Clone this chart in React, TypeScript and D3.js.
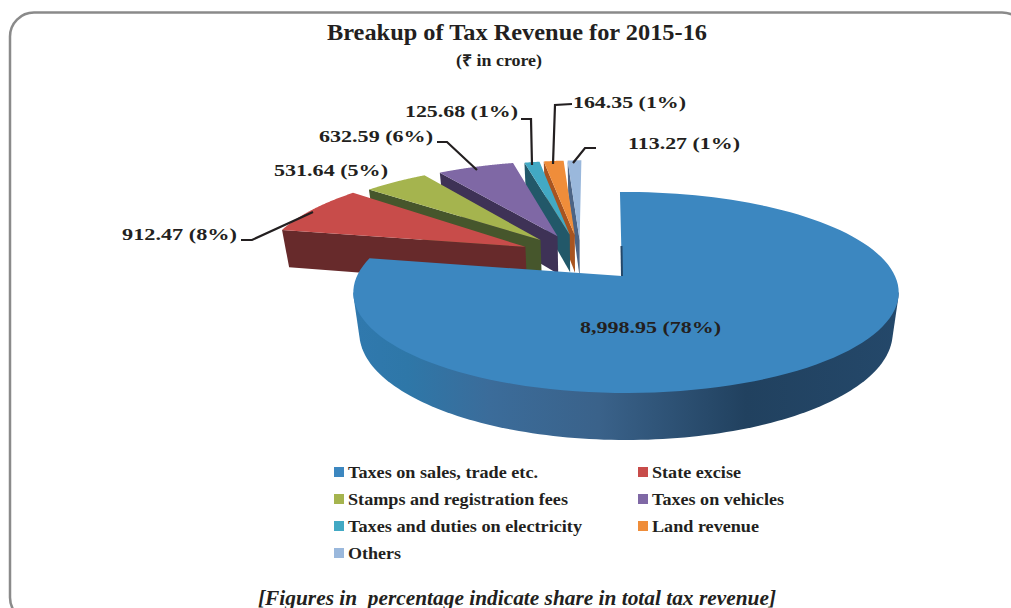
import React from "react";
import * as d3 from "d3";

const categories = [
  "Taxes on sales, trade etc.",
  "State excise",
  "Stamps and registration fees",
  "Taxes on vehicles",
  "Taxes and duties on electricity",
  "Land revenue",
  "Others",
];
const values = [8998.95, 912.47, 531.64, 632.59, 125.68, 164.35, 113.27];
const topColors = ["#3c87c0", "#c84c4a", "#a5b44e", "#7f68a5", "#42a9c4", "#ef8d3a", "#9ab8dc"];
const sideColors = ["#2f6b9a", "#672a2b", "#46562c", "#3e3256", "#225869", "#a85420", "#4c6485"];

// layout of each slice
const explodes = [0, 0.3, 0.3, 0.3, 0.3, 0.3, 0.3];
const shiftX = [23, 0, -4, -8, -10, -11, -12];
const shiftY = [16, -1, 3, 4, 5, 5, 5];
const apexShiftX = [-4, -6, -6, -6, -7, -7, -7];
const apexShiftY = [0, 0, -2, -2, -3, -2, 3];

// data label layout
const labelX = [580, 122, 274, 319, 405, 573, 628];
const labelY = [333, 240, 176, 142, 117, 108, 149];
const labelW = [141, 115, 114, 114, 113, 113, 112];

const leaders: [number, number][][] = [
  [],
  [[241, 240], [252, 240], [313, 212]],
  [],
  [[437, 142], [447, 142], [477, 170]],
  [[521, 119], [531, 119], [532, 165]],
  [[572, 104], [555, 105], [553, 164]],
  [[596, 148], [585, 148], [573, 163]],
];

// legend layout
const legendCol = [334, 638, 334, 638, 334, 638, 334];
const legendRow = [467, 467, 494, 494, 521, 521, 548];
const legendW = [190, 89, 220, 132, 234, 107, 53];

const W = 1011;
const H = 608;
const CX = 603, CY = 260;
const P = 0.164, A = 97.8, B = 269, D = 39.3, SHRINK = 0.022;

const pieGen = d3
  .pie<number>()
  .sort(null)
  .value((d) => d)
  .startAngle((-1.5 * Math.PI) / 180)
  .endAngle((358.5 * Math.PI) / 180);
const arcs = pieGen(values);
const total = d3.sum(values);
const fmt = d3.format(",.2f");
const labels = values.map((v, i) => `${fmt(v)} (${Math.round((v / total) * 100)}%)`);
const line = d3.line<[number, number]>();

function project(i: number, wx: number, wy: number, z: number): [number, number] {
  const s = 1 / (1 - P * wy);
  return [
    CX + shiftX[i] + B * wx * s * (1 - SHRINK * z),
    CY + shiftY[i] + (A * wy + D * z) * s,
  ];
}
function offset(i: number): [number, number] {
  const mid = (arcs[i].startAngle + arcs[i].endAngle) / 2;
  return [explodes[i] * Math.sin(mid), -explodes[i] * Math.cos(mid)];
}
function rim(i: number, angle: number, z: number): [number, number] {
  const [ex, ey] = offset(i);
  return project(i, ex + Math.sin(angle), ey - Math.cos(angle), z);
}
function apex(i: number, z: number): [number, number] {
  const [ex, ey] = offset(i);
  const p = project(i, ex, ey, z);
  return [p[0] + apexShiftX[i], p[1] + apexShiftY[i]];
}
function rimRange(i: number, a0: number, a1: number, z: number): [number, number][] {
  return d3.range(0, 121).map((k) => rim(i, a0 + ((a1 - a0) * k) / 120, z));
}

function Slice({ i }: { i: number }) {
  const { startAngle, endAngle } = arcs[i];
  const top = [apex(i, 0), ...rimRange(i, startAngle, endAngle, 0)];
  const face = [apex(i, 0), rim(i, startAngle, 0), rim(i, startAngle, 1), apex(i, 1)];
  return (
    <g>
      <path d={line(face)! + "Z"} fill={sideColors[i]} />
      <path d={line(top)! + "Z"} fill={topColors[i]} />
    </g>
  );
}

function BigSlice() {
  const i = 0;
  const { startAngle, endAngle } = arcs[i];
  const a0 = (99.4 * Math.PI) / 180;
  const a1 = (260.6 * Math.PI) / 180;
  const hull = d3.polygonHull([...rimRange(i, a0, a1, 0), ...rimRange(i, a0, a1, 1)])!;
  const top = [apex(i, 0), ...rimRange(i, startAngle, endAngle, 0)];
  const [ax, ay] = apex(i, 0);
  return (
    <g>
      <path d={line(hull)! + "Z"} fill="url(#blueSide)" />
      <path d={line(top)! + "Z"} fill={topColors[i]} />
      <path d={line([[ax - 0.5, ay - 30], [ax, ay]])!} stroke="#24486a" strokeWidth={2} fill="none" />
    </g>
  );
}

const serif = "'Liberation Serif', 'Times New Roman', serif";
const ink = "#231f20";

export default function App() {
  return (
    <svg
      width={W}
      height={H}
      style={{ position: "absolute", left: 0, top: 0, background: "#fff" }}
      fontFamily={serif}
    >
      <defs>
        <linearGradient id="blueSide" gradientUnits="userSpaceOnUse" x1={353} x2={899} y1={0} y2={0}>
          <stop offset="0" stopColor="#3079ae" />
          <stop offset="0.1" stopColor="#2e77a8" />
          <stop offset="0.25" stopColor="#3b6c9a" />
          <stop offset="0.45" stopColor="#3a628a" />
          <stop offset="0.72" stopColor="#21415f" />
          <stop offset="1" stopColor="#24486a" />
        </linearGradient>
      </defs>
      <rect x={10} y={12.5} width={1016} height={609} rx={24} fill="#fff" stroke="#8a8a8a" strokeWidth={2.5} />

      <text x={327} y={40} fontSize={24} fontWeight="bold" fill={ink} textLength={380} lengthAdjust="spacingAndGlyphs">
        Breakup of Tax Revenue for 2015-16
      </text>
      <text x={456} y={66} fontSize={16} fontWeight="bold" fill={ink} textLength={86} lengthAdjust="spacingAndGlyphs">
        (₹ in crore)
      </text>

      {[6, 5, 4, 3, 2, 1].map((i) => (
        <Slice key={i} i={i} />
      ))}
      <BigSlice />

      {leaders.map((pts, i) =>
        pts.length ? (
          <path key={i} d={line(pts)!} fill="none" stroke={ink} strokeWidth={2.2} />
        ) : null
      )}
      {labels.map((t, i) => (
        <text key={i} x={labelX[i]} y={labelY[i]} fontSize={17.5} fontWeight="bold" fill={ink} textLength={labelW[i]} lengthAdjust="spacingAndGlyphs">
          {t}
        </text>
      ))}

      {categories.map((c, i) => (
        <g key={c}>
          <rect x={legendCol[i]} y={legendRow[i]} width={10} height={10} fill={topColors[i]} />
          <text x={legendCol[i] + 14} y={legendRow[i] + 11} fontSize={17.5} fontWeight="bold" fill={ink} textLength={legendW[i]} lengthAdjust="spacingAndGlyphs">
            {c}
          </text>
        </g>
      ))}

      <text
        x={258}
        y={605}
        fontSize={21}
        fontWeight="bold"
        fontStyle="italic"
        fill={ink}
        textLength={518}
        lengthAdjust="spacingAndGlyphs"
        style={{ whiteSpace: "pre" }}
      >
        {"[Figures in  percentage indicate share in total tax revenue]"}
      </text>
    </svg>
  );
}
